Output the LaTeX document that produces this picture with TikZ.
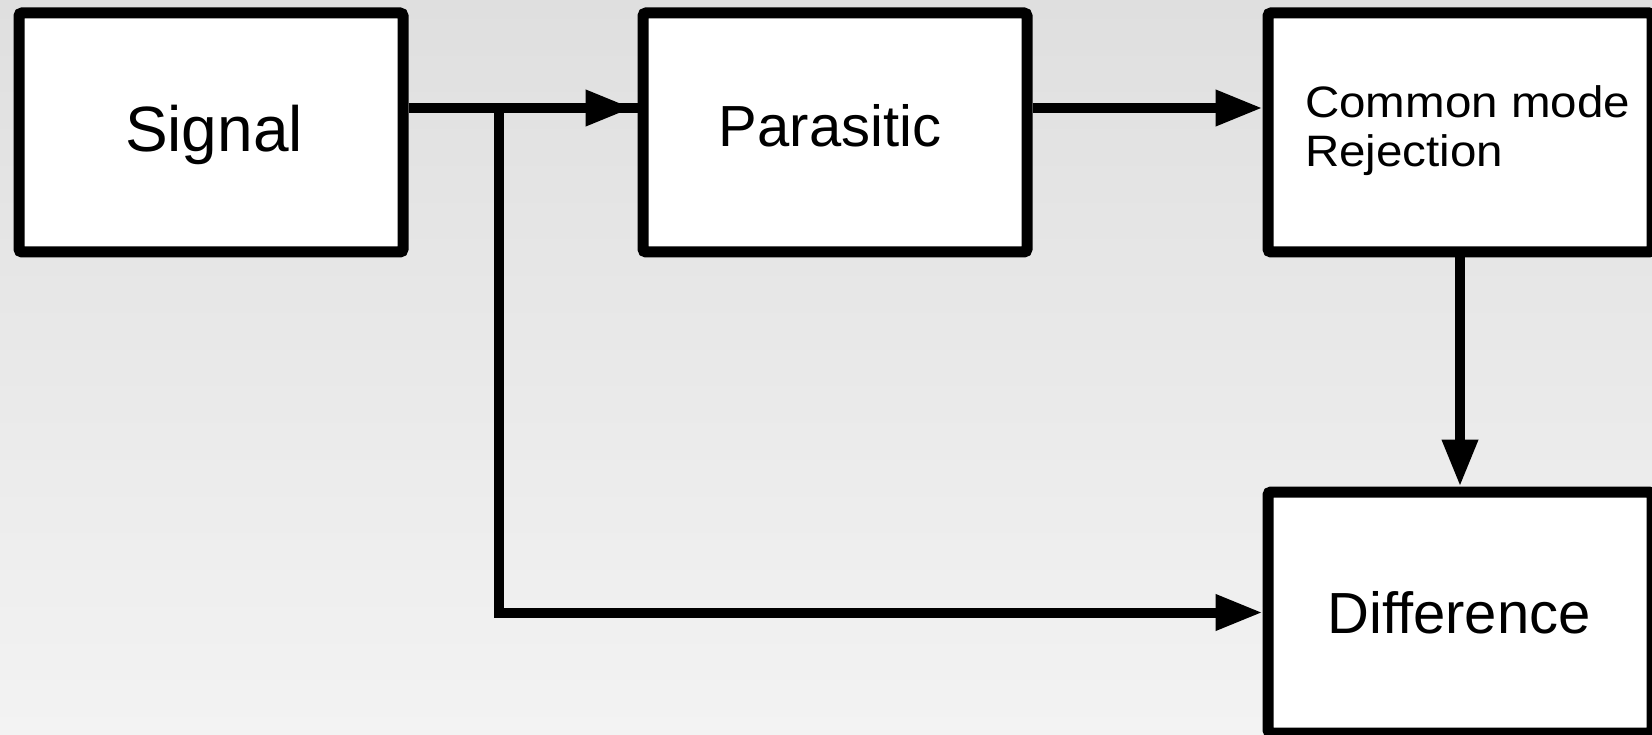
\documentclass[tikz,border=0pt]{standalone}
\usepackage{fontspec}
\setmainfont{Liberation Sans}
\usetikzlibrary{arrows.meta}

\newcommand\bigtext{\fontsize{64}{70}\selectfont}
\newcommand\midtext{\fontsize{58}{64}\selectfont}
\newcommand\smalltext{\fontsize{44}{49}\selectfont}
\newcommand\wide[1]{\scalebox{1.08}[1]{#1}}

\definecolor{bgtop}{RGB}{223,223,223}
\definecolor{bgbottom}{RGB}{243,243,243}

\tikzset{
  block/.style={draw=black, fill=white, line width=11pt, rounded corners=3pt,
    inner sep=0pt, minimum width=384pt, minimum height=239pt},
  wire/.style={draw=black, line width=10pt},
  flow/.style={wire, -{Triangle[length=47pt, width=34pt]}},
  label/.style={inner sep=0pt, text=black}
}

\begin{document}
\begin{tikzpicture}[x=1pt, y=-1pt]
  % canvas with a soft vertical gradient
  \useasboundingbox (0,0) rectangle (1652,735);
  \shade[top color=bgtop, bottom color=bgbottom] (0,0) rectangle (1652,735);

  % blocks
  \node[block] (signal) at (211,132.5) {};
  \node[block] (parasitic) at (835,132.5) {};
  \node[block] (cmr) at (1460,132.5) {};
  \node[block, minimum height=241pt] (diff) at (1460,612.5) {};

  % block captions (the two-line caption is anchored at its last baseline)
  \node[label, anchor=base, font=\bigtext] (signaltext) at (214,152) {Signal};
  \node[label, anchor=base, font=\midtext] (parasitictext) at (830,147) {Parasitic};
  \node[label, anchor=base west, align=left, font=\smalltext] (cmrtext) at (1305,167)
    {\wide{Common mode}\\\wide{Rejection}};
  \node[label, anchor=base, font=\midtext] (difftext) at (1459,633) {Difference};

  % signal path into the parasitic block
  \coordinate (sigout) at ([yshift=24.5pt]signal.east);
  \coordinate (parin) at ([yshift=24.5pt]parasitic.west);
  \draw[wire] (sigout) -- (parin);
  \draw[flow] (sigout) -- ([xshift=-5pt]parin);

  % branch of the signal going straight to the difference block
  \coordinate (tap) at (499,108);
  \draw[flow] (tap) |- (diff.west);

  % parasitic -> common mode rejection -> difference
  \draw[flow] ([yshift=24.5pt]parasitic.east) -- ([yshift=24.5pt]cmr.west);
  \draw[flow] (cmr.south) -- (diff.north);
\end{tikzpicture}
\end{document}
